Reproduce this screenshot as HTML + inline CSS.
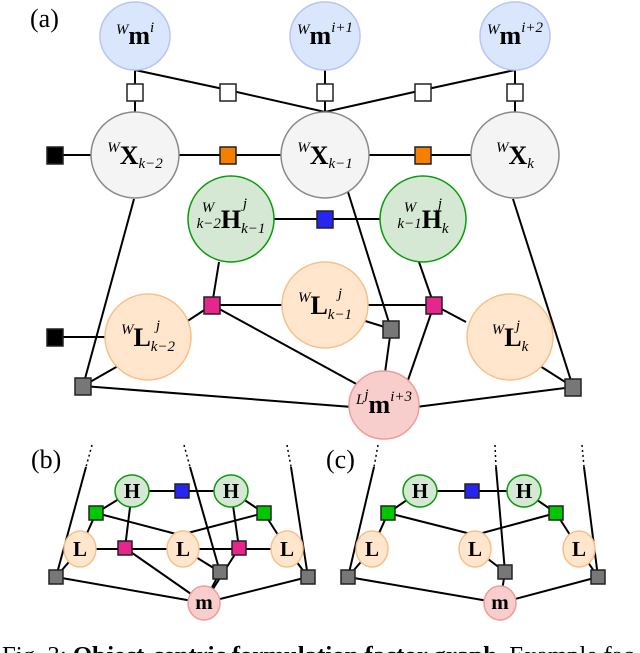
<!DOCTYPE html>
<html><head><meta charset="utf-8"><style>
html,body{margin:0;padding:0;background:#fff;}
svg{display:block;}
text{font-family:"Liberation Serif",serif;}
</style></head><body>
<svg width="640" height="653" viewBox="0 0 640 653" xmlns="http://www.w3.org/2000/svg">
<g stroke="#000" stroke-width="2" fill="none">
<line x1="135" y1="70" x2="135" y2="112"/>
<line x1="325" y1="70" x2="325" y2="112"/>
<line x1="515" y1="70" x2="515" y2="112"/>
<polyline points="135,70 228,90 325,112 423,90 515,70"/>
<line x1="55" y1="155" x2="515" y2="155"/>
<line x1="232" y1="219" x2="423" y2="219"/>
<line x1="134" y1="199" x2="83" y2="386"/>
<line x1="513" y1="199" x2="573" y2="387"/>
<line x1="348" y1="192" x2="391" y2="329"/>
<line x1="219" y1="262" x2="212" y2="305"/>
<line x1="419" y1="262" x2="434" y2="305"/>
<line x1="212" y1="305" x2="434" y2="305"/>
<line x1="212" y1="305" x2="186" y2="322"/>
<line x1="434" y1="305" x2="466" y2="322"/>
<line x1="212" y1="305" x2="360" y2="386"/>
<line x1="434" y1="305" x2="408" y2="380"/>
<line x1="362" y1="320" x2="391" y2="329"/>
<line x1="391" y1="329" x2="384" y2="380"/>
<line x1="55" y1="337" x2="106" y2="337"/>
<line x1="83" y1="386" x2="118" y2="366"/>
<line x1="83" y1="386" x2="352" y2="407"/>
<line x1="573" y1="387" x2="540" y2="366"/>
<line x1="573" y1="387" x2="416" y2="407"/>
<line x1="86" y1="467" x2="56" y2="577"/>
<line x1="190" y1="467" x2="220" y2="572"/>
<line x1="291" y1="467" x2="308" y2="577"/>
<line x1="132" y1="491" x2="231" y2="491"/>
<line x1="132" y1="491" x2="96" y2="513"/>
<line x1="231" y1="491" x2="264" y2="513"/>
<line x1="96" y1="513" x2="80" y2="549"/>
<line x1="264" y1="513" x2="287" y2="549"/>
<line x1="96" y1="513" x2="180" y2="535"/>
<line x1="264" y1="513" x2="180" y2="535"/>
<line x1="132" y1="491" x2="125" y2="548"/>
<line x1="231" y1="491" x2="239" y2="548"/>
<line x1="80" y1="549" x2="287" y2="549"/>
<line x1="183" y1="549" x2="220" y2="572"/>
<line x1="125" y1="548" x2="204" y2="603"/>
<line x1="239" y1="548" x2="204" y2="603"/>
<line x1="220" y1="572" x2="204" y2="603"/>
<line x1="56" y1="577" x2="80" y2="549"/>
<line x1="56" y1="577" x2="204" y2="603"/>
<line x1="308" y1="577" x2="287" y2="549"/>
<line x1="308" y1="577" x2="204" y2="603"/>
<line x1="374" y1="467" x2="348" y2="577"/>
<line x1="496" y1="467" x2="505" y2="572"/>
<line x1="584" y1="467" x2="598" y2="577"/>
<line x1="420" y1="491" x2="524" y2="491"/>
<line x1="420" y1="491" x2="388" y2="513"/>
<line x1="524" y1="491" x2="556" y2="513"/>
<line x1="388" y1="513" x2="372" y2="549"/>
<line x1="556" y1="513" x2="579" y2="549"/>
<line x1="388" y1="513" x2="475" y2="535"/>
<line x1="556" y1="513" x2="475" y2="535"/>
<line x1="475" y1="549" x2="505" y2="572"/>
<line x1="505" y1="572" x2="500" y2="603"/>
<line x1="348" y1="577" x2="372" y2="549"/>
<line x1="348" y1="577" x2="500" y2="603"/>
<line x1="598" y1="577" x2="579" y2="549"/>
<line x1="598" y1="577" x2="500" y2="603"/>
</g>
<g stroke="#000" stroke-width="1.5" stroke-dasharray="2,3">
<line x1="92" y1="445" x2="86" y2="467"/>
<line x1="184" y1="445" x2="190" y2="467"/>
<line x1="287" y1="445" x2="291" y2="467"/>
<line x1="378" y1="445" x2="374" y2="467"/>
<line x1="495" y1="445" x2="496" y2="467"/>
<line x1="582" y1="445" x2="584" y2="467"/>
</g>
<g stroke-width="1.5">
<ellipse cx="135" cy="36" rx="35" ry="34" fill="#dae6fb" stroke="#b7c5f5"/>
<ellipse cx="325" cy="36" rx="35" ry="34" fill="#dae6fb" stroke="#b7c5f5"/>
<ellipse cx="515" cy="36" rx="35" ry="34" fill="#dae6fb" stroke="#b7c5f5"/>
<ellipse cx="135" cy="155" rx="44" ry="43" fill="#f4f4f4" stroke="#8a8a8a"/>
<ellipse cx="325" cy="155" rx="44" ry="43" fill="#f4f4f4" stroke="#8a8a8a"/>
<ellipse cx="515" cy="155" rx="44" ry="43" fill="#f4f4f4" stroke="#8a8a8a"/>
<ellipse cx="231" cy="219" rx="43" ry="43" fill="#d5e8d4" stroke="#0b9a0b"/>
<ellipse cx="423" cy="219" rx="43" ry="43" fill="#d5e8d4" stroke="#0b9a0b"/>
<ellipse cx="325" cy="305" rx="43" ry="43" fill="#ffe6cc" stroke="#f7c08a"/>
<ellipse cx="148" cy="337" rx="43" ry="43" fill="#ffe6cc" stroke="#f7c08a"/>
<ellipse cx="510" cy="337" rx="43" ry="43" fill="#ffe6cc" stroke="#f7c08a"/>
<ellipse cx="384" cy="405" rx="35" ry="34" fill="#f8cecc" stroke="#f09a9a"/>
<ellipse cx="132" cy="491" rx="17" ry="16" fill="#d5e8d4" stroke="#0b9a0b"/>
<ellipse cx="231" cy="491" rx="17" ry="16" fill="#d5e8d4" stroke="#0b9a0b"/>
<ellipse cx="80" cy="549" rx="16" ry="18" fill="#ffe6cc" stroke="#f7c08a"/>
<ellipse cx="183" cy="549" rx="16" ry="18" fill="#ffe6cc" stroke="#f7c08a"/>
<ellipse cx="287" cy="549" rx="16" ry="18" fill="#ffe6cc" stroke="#f7c08a"/>
<ellipse cx="204" cy="603" rx="16" ry="17" fill="#f8cecc" stroke="#f09a9a"/>
<ellipse cx="420" cy="491" rx="17" ry="16" fill="#d5e8d4" stroke="#0b9a0b"/>
<ellipse cx="524" cy="491" rx="17" ry="16" fill="#d5e8d4" stroke="#0b9a0b"/>
<ellipse cx="372" cy="549" rx="16" ry="18" fill="#ffe6cc" stroke="#f7c08a"/>
<ellipse cx="475" cy="549" rx="16" ry="18" fill="#ffe6cc" stroke="#f7c08a"/>
<ellipse cx="579" cy="549" rx="16" ry="18" fill="#ffe6cc" stroke="#f7c08a"/>
<ellipse cx="500" cy="603" rx="16" ry="17" fill="#f8cecc" stroke="#f09a9a"/>
</g>
<g stroke="#222" stroke-width="1.5">
<rect x="127" y="84" width="16" height="17" fill="#fff"/>
<rect x="220" y="84" width="16" height="17" fill="#fff"/>
<rect x="317" y="84" width="16" height="17" fill="#fff"/>
<rect x="415" y="84" width="16" height="17" fill="#fff"/>
<rect x="507" y="84" width="16" height="17" fill="#fff"/>
<rect x="47" y="147" width="16" height="17" fill="#000"/>
<rect x="220" y="147" width="16" height="17" fill="#f57f00"/>
<rect x="415" y="147" width="16" height="17" fill="#f57f00"/>
<rect x="317" y="211" width="16" height="17" fill="#2626f0"/>
<rect x="204" y="297" width="16" height="17" fill="#e6268c"/>
<rect x="426" y="297" width="16" height="17" fill="#e6268c"/>
<rect x="47" y="329" width="16" height="17" fill="#000"/>
<rect x="383" y="321" width="16" height="17" fill="#777"/>
<rect x="75" y="378" width="16" height="17" fill="#777"/>
<rect x="565" y="379" width="16" height="17" fill="#777"/>
<rect x="175" y="484" width="14" height="14" fill="#2626f0"/>
<rect x="89" y="506" width="14" height="14" fill="#00c800"/>
<rect x="257" y="506" width="14" height="14" fill="#00c800"/>
<rect x="118" y="541" width="14" height="14" fill="#e6268c"/>
<rect x="232" y="541" width="14" height="14" fill="#e6268c"/>
<rect x="49" y="570" width="14" height="14" fill="#777"/>
<rect x="213" y="565" width="14" height="14" fill="#777"/>
<rect x="301" y="570" width="14" height="14" fill="#777"/>
<rect x="465" y="484" width="14" height="14" fill="#2626f0"/>
<rect x="381" y="506" width="14" height="14" fill="#00c800"/>
<rect x="549" y="506" width="14" height="14" fill="#00c800"/>
<rect x="341" y="570" width="14" height="14" fill="#777"/>
<rect x="498" y="565" width="14" height="14" fill="#777"/>
<rect x="591" y="570" width="14" height="14" fill="#777"/>
</g>
<text x="30" y="27" font-size="26" font-family="Liberation Sans,sans-serif">(a)</text>
<text x="31" y="468" font-size="26">(b)</text>
<text x="326" y="468" font-size="26">(c)</text>
<g font-size="26" font-weight="bold" text-anchor="middle">
<text x="135" y="44"><tspan font-size="15" font-style="italic" font-weight="normal" dy="-10">W</tspan><tspan dy="10">m</tspan><tspan font-size="15" font-style="italic" font-weight="normal" dy="-12">i</tspan></text>
<text x="325" y="44"><tspan font-size="15" font-style="italic" font-weight="normal" dy="-10">W</tspan><tspan dy="10">m</tspan><tspan font-size="15" font-style="italic" font-weight="normal" dy="-12">i+1</tspan></text>
<text x="515" y="44"><tspan font-size="15" font-style="italic" font-weight="normal" dy="-10">W</tspan><tspan dy="10">m</tspan><tspan font-size="15" font-style="italic" font-weight="normal" dy="-12">i+2</tspan></text>
<text x="135" y="164"><tspan font-size="15" font-style="italic" font-weight="normal" dy="-12">W</tspan><tspan dy="12">X</tspan><tspan font-size="15" font-style="italic" font-weight="normal" dy="4">k−2</tspan></text>
<text x="325" y="164"><tspan font-size="15" font-style="italic" font-weight="normal" dy="-12">W</tspan><tspan dy="12">X</tspan><tspan font-size="15" font-style="italic" font-weight="normal" dy="4">k−1</tspan></text>
<text x="515" y="164"><tspan font-size="15" font-style="italic" font-weight="normal" dy="-12">W</tspan><tspan dy="12">X</tspan><tspan font-size="15" font-style="italic" font-weight="normal" dy="4">k</tspan></text>
<text x="231" y="228"><tspan font-size="15" font-style="italic" font-weight="normal">k−2</tspan><tspan>H</tspan><tspan font-size="15" font-style="italic" font-weight="normal" dy="5">k−1</tspan></text>
<text x="208" y="212" font-size="15" font-style="italic" font-weight="normal">W</text>
<text x="245" y="208" font-size="15" font-style="italic" font-weight="normal">j</text>
<text x="423" y="228"><tspan font-size="15" font-style="italic" font-weight="normal">k−1</tspan><tspan>H</tspan><tspan font-size="15" font-style="italic" font-weight="normal" dy="5">k</tspan></text>
<text x="410" y="212" font-size="15" font-style="italic" font-weight="normal">W</text>
<text x="440" y="208" font-size="15" font-style="italic" font-weight="normal">j</text>
<text x="325" y="314"><tspan font-size="15" font-style="italic" font-weight="normal" dy="-12">W</tspan><tspan dy="12">L</tspan><tspan font-size="15" font-style="italic" font-weight="normal" dy="5">k−1</tspan></text>
<text x="340" y="298" font-size="15" font-style="italic" font-weight="normal">j</text>
<text x="148" y="346"><tspan font-size="15" font-style="italic" font-weight="normal" dy="-12">W</tspan><tspan dy="12">L</tspan><tspan font-size="15" font-style="italic" font-weight="normal" dy="5">k−2</tspan></text>
<text x="158" y="330" font-size="15" font-style="italic" font-weight="normal">j</text>
<text x="510" y="346"><tspan font-size="15" font-style="italic" font-weight="normal" dy="-12">W</tspan><tspan dy="12">L</tspan><tspan font-size="15" font-style="italic" font-weight="normal" dy="5">k</tspan></text>
<text x="518" y="330" font-size="15" font-style="italic" font-weight="normal">j</text>
<text x="384" y="413"><tspan font-size="15" font-style="italic" font-weight="normal" dy="-9">L</tspan><tspan font-size="15" font-style="italic" font-weight="normal" dy="-5">j</tspan><tspan dy="14">m</tspan><tspan font-size="15" font-style="italic" font-weight="normal" dy="-12">i+3</tspan></text>
</g>
<g font-size="21" font-weight="bold" text-anchor="middle">
<text x="132" y="498">H</text><text x="231" y="498">H</text>
<text x="80" y="556">L</text><text x="183" y="556">L</text><text x="287" y="556">L</text>
<text x="204" y="609">m</text>
<text x="420" y="498">H</text><text x="524" y="498">H</text>
<text x="372" y="556">L</text><text x="475" y="556">L</text><text x="579" y="556">L</text>
<text x="500" y="609">m</text>
</g>
<text x="2" y="663" font-size="24" textLength="640" lengthAdjust="spacingAndGlyphs">Fig. 3: <tspan font-weight="bold">Object-centric formulation factor graph.</tspan> Example fac-</text>
</svg>
</body></html>
